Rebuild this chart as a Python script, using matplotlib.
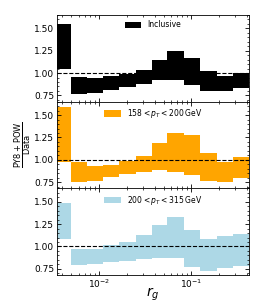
import numpy as np
import matplotlib
matplotlib.use('Agg')
import matplotlib.pyplot as plt
from matplotlib.ticker import AutoMinorLocator, FixedLocator

# bin edges in r_g
edges = [0.0035, 0.0049, 0.0074, 0.011, 0.0165, 0.025, 0.037,
         0.055, 0.084, 0.125, 0.19, 0.28, 0.42]

# band limits (ratio PY8+POW / Data)
incl_lo = [1.048, 0.765, 0.780, 0.810, 0.844, 0.874, 0.920, 0.920, 0.867, 0.799, 0.799, 0.833]
incl_hi = [1.553, 0.957, 0.942, 0.969, 0.987, 1.036, 1.150, 1.244, 1.172, 1.018, 0.969, 1.000]

pt1_lo = [0.977, 0.750, 0.761, 0.803, 0.841, 0.860, 0.883, 0.867, 0.826, 0.765, 0.750, 0.799]
pt1_hi = [1.595, 0.970, 0.928, 0.947, 0.981, 1.045, 1.186, 1.303, 1.273, 1.072, 0.973, 1.027]

pt2_lo = [1.083, 0.792, 0.799, 0.826, 0.833, 0.856, 0.871, 0.871, 0.765, 0.723, 0.758, 0.784]
pt2_hi = [1.489, 0.970, 0.973, 1.015, 1.053, 1.133, 1.239, 1.326, 1.182, 1.087, 1.117, 1.136]

labels = ['Inclusive',
          r'$158 < p_T < 200\,\mathrm{GeV}$',
          r'$200 < p_T < 315\,\mathrm{GeV}$']
colors = ['black', 'orange', 'lightblue']
bands = [(incl_lo, incl_hi), (pt1_lo, pt1_hi), (pt2_lo, pt2_hi)]

fig, axes = plt.subplots(3, 1, figsize=(2.62, 3.06), dpi=100, sharex=True)
fig.subplots_adjust(left=0.218, right=0.950, top=0.951, bottom=0.101, hspace=0)

for ax, (lo, hi), c, lab in zip(axes, bands, colors, labels):
    ax.stairs(hi, edges, baseline=lo, fill=True, color=c, label=lab)
    ax.axhline(1.0, color='black', ls='--', lw=0.8)
    ax.set_xscale('log')
    ax.set_xlim(0.0035, 0.42)
    ax.set_ylim(0.68, 1.65)
    ax.yaxis.set_major_locator(FixedLocator([0.75, 1.0, 1.25, 1.5]))
    ax.yaxis.set_minor_locator(AutoMinorLocator(5))
    ax.yaxis.set_major_formatter(matplotlib.ticker.FormatStrFormatter('%.2f'))
    ax.tick_params(which='both', direction='in', top=True, right=True, labelsize=6.5, pad=2)
    ax.tick_params(which='major', length=3, width=0.6)
    ax.tick_params(which='minor', length=1.5, width=0.5)
    for s in ax.spines.values():
        s.set_linewidth(0.6)
    ax.legend(loc='upper center', frameon=False, fontsize=5.5,
              handlelength=2.2, handleheight=0.9, borderaxespad=0.3)

axes[-1].set_xlabel(r'$r_g$', fontsize=10, labelpad=-3)
axes[1].set_ylabel(r'$\frac{\mathrm{PY8} + \mathrm{POW}}{\mathrm{Data}}$', fontsize=8.5, labelpad=0)

fig.savefig('out.png', dpi=100)
